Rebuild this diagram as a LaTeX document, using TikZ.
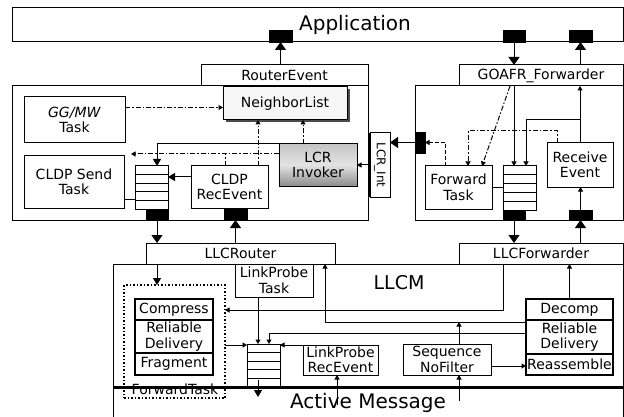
\documentclass[tikz,border=0pt]{standalone}
\usepackage{fontspec}
\setmainfont{DejaVu Sans}
\usetikzlibrary{arrows.meta,calc,shadows}
\begin{document}
\begin{tikzpicture}[x=1pt,y=-1pt,
  box/.style={draw,line width=1pt,fill=white,inner sep=0pt,outer sep=0pt,align=center,font=\fontsize{14}{15.5}\selectfont},
  stk/.style={box,line width=1.5pt},
  pad/.style={fill=black,draw=black,line width=0.5pt,inner sep=0pt,outer sep=0pt},
  conn/.style={line width=1pt},
  big/.style={conn,-{Triangle[width=11pt,length=8pt]}},
  med/.style={conn,-{Triangle[width=8pt,length=7pt]}},
  sml/.style={conn,-{Triangle[width=5pt,length=4.5pt]}},
  dd/.style={conn,dash pattern=on 5pt off 2pt on 1.5pt off 2pt},
  dsh/.style={conn,dash pattern=on 4pt off 2pt},
  sep/.style={line width=2.5pt},
  bigtxt/.style={font=\fontsize{20}{22}\selectfont,inner sep=0pt}]
\useasboundingbox (0,0) rectangle (624,417);

% ---------- top level boxes
\node[box,minimum width=611pt,minimum height=34pt] (app) at (317.5,25) {};
\node[bigtxt] (apptxt) at (355,25) {Application};
\node[box,minimum width=356pt,minimum height=134pt] (leftbox) at (190,153) {};
\node[box,minimum width=208pt,minimum height=134pt] (rightbox) at (519,153) {};
\node[box,minimum width=167pt,minimum height=21pt] (rtev) at (284.5,75.5) {RouterEvent};
\node[box,minimum width=164pt,minimum height=21pt] (goafr) at (541,75.5) {GOAFR\_Forwarder};

\node[pad,minimum width=23pt,minimum height=12pt] (padA1) at (280.5,36) {};
\node[pad,minimum width=22pt,minimum height=12pt] (padA2) at (514,36) {};
\node[pad,minimum width=23pt,minimum height=12pt] (padA3) at (580.5,36) {};

% ---------- router module
\node[box,minimum width=101pt,minimum height=46pt] (gg) at (74.5,120) {\textit{GG/MW}\\Task};
\node[box,fill=gray!7,drop shadow={shadow xshift=2.5pt,shadow yshift=-2.5pt,fill=black!70,opacity=1},minimum width=124pt,minimum height=33pt] (nl) at (285,103.5) {NeighborList};
\node[box,top color=gray!45,bottom color=gray!90,middle color=gray!22,minimum width=78pt,minimum height=42pt] (lcr) at (318,165) {LCR\\Invoker};
\node[box,minimum width=20pt,minimum height=64pt,font=\fontsize{12}{14}\selectfont] (lcrint) at (380,165) {\rotatebox{-90}{LCR\_Int}};
\draw[sep] (lcrint.north west) -- (lcrint.south west);
\node[box,minimum width=100pt,minimum height=52pt] (cldps) at (74,182) {CLDP Send\\Task};
\node[box,minimum width=33pt,minimum height=43pt] (q1) at (151.5,187.5) {};
\node[pad,minimum width=22pt,minimum height=11pt] (padQ1) at (157,214.5) {};
\node[box,minimum width=77pt,minimum height=42pt] (cldpr) at (229.5,187) {CLDP\\RecEvent};
\node[pad,minimum width=23pt,minimum height=11pt] (padR) at (235.5,214.5) {};

% ---------- forwarder module
\node[pad,minimum width=10pt,minimum height=21pt] (padF) at (420,142.5) {};
\node[box,minimum width=67pt,minimum height=43pt] (fwd) at (458.5,187.5) {Forward\\Task};
\node[box,minimum width=33pt,minimum height=44pt] (q2) at (519.5,188) {};
\node[pad,minimum width=22pt,minimum height=10pt] (padQ2) at (514,215) {};
\node[box,minimum width=66pt,minimum height=44pt] (recv) at (580,165) {Receive\\Event};
\node[pad,minimum width=23pt,minimum height=10pt] (padRcv) at (580.5,215) {};

% ---------- LLCM
\coordinate (llcmBL) at (113,418);
\coordinate (llcmTL) at (113,264);
\coordinate (llcmTR) at (623,264);
\coordinate (llcmBR) at (623,418);
\draw[line width=1pt] (llcmBL) -- (llcmTL) -- (llcmTR) -- (llcmBR);
\node[box,minimum width=189pt,minimum height=21pt] (llcr) at (240.5,253.5) {LLCRouter};
\node[box,minimum width=164pt,minimum height=21pt] (llcf) at (541,253.5) {LLCForwarder};
\node[font=\fontsize{19}{21}\selectfont,inner sep=0pt] (llcmtxt) at (399,283) {LLCM};
\node[box,minimum width=78pt,minimum height=33pt] (lpt) at (274,280.5) {LinkProbe\\Task};

\node[draw,line width=1.5pt,dash pattern=on 1.5pt off 2pt,inner sep=0pt,outer sep=0pt,minimum width=101pt,minimum height=113pt] (ftdot) at (174.5,341.5) {};
\node[stk,minimum width=78pt,minimum height=21pt] (comp) at (174,309.5) {Compress};
\node[stk,minimum width=78pt,minimum height=33pt] (rel) at (174,336.5) {Reliable\\Delivery};
\node[stk,minimum width=78pt,minimum height=22pt] (frag) at (174,364) {Fragment};
\draw[sep] (comp.south west) -- (comp.south east);
\draw[sep] (rel.south west) -- (rel.south east);
\node[font=\fontsize{14}{15.5}\selectfont,inner sep=0pt] (fttxt) at (175,389) {ForwardTask};

\node[box,minimum width=33pt,minimum height=43pt] (q3) at (263.5,365.5) {};
\node[box,minimum width=75pt,minimum height=30pt] (lpr) at (340.5,360) {LinkProbe\\RecEvent};
\node[box,minimum width=88pt,minimum height=31pt] (seq) at (447,359.5) {Sequence\\NoFilter};
\node[stk,minimum width=87pt,minimum height=21pt] (dec) at (569.5,309.5) {Decomp};
\node[stk,minimum width=87pt,minimum height=34pt] (rel2) at (569.5,337) {Reliable\\Delivery};
\node[stk,minimum width=87pt,minimum height=21pt] (reas) at (569.5,364.5) {Reassemble};
\draw[sep] (dec.south west) -- (dec.south east);
\draw[sep] (rel2.south west) -- (rel2.south east);

% queue rows
\foreach \q in {q1,q2,q3}
  \foreach \i in {1,...,4}
    \draw[line width=1pt] ($(\q.north west)!\i/5!(\q.south west)$) -- ($(\q.north east)!\i/5!(\q.south east)$);

% Active Message
\coordinate (amL) at (113,387);
\coordinate (amR) at (623,387);
\draw[line width=3pt] (amL) -- (amR);
\node[bigtxt] (amtxt) at (368,403) {Active Message};

% ---------- connectors: top
\draw[big] (rtev.north -| padA1) -- (padA1.south);
\draw[big] (padA2.south) -- (padA2.south |- goafr.north);
\draw[big] (goafr.north -| padA3) -- (padA3.south);

% ---------- connectors: router module
\coordinate (nlin) at ([yshift=-4pt]nl.west);
\draw[dd,-{Triangle[width=5pt,length=4.5pt]}] (gg.east |- nlin) -- (nlin);
\coordinate (c5) at ([xshift=-27pt]nl.south);
\draw[dd,-{Triangle[width=5pt,length=4.5pt]}] (c5 |- cldpr.north) -- (c5);
\coordinate (c6) at ([xshift=18pt]nl.south);
\draw[dd,-{Triangle[width=5pt,length=4.5pt]}] (c6 |- lcr.north) -- (c6);
\draw[med] (lcr.north west) -| (q1.north -| padQ1);
\coordinate (c8) at ([yshift=11pt]lcr.west);
\coordinate (c8e) at ([xshift=7pt]cldps.north east);
\draw[dd,-{Triangle[width=5pt,length=4.5pt]}] (c8) -- (c8 -| c8e);
\coordinate (c8b) at ([xshift=-4.5pt]cldpr.north);
\draw[dd] (c8b) -- (c8b |- c8);
\coordinate (c9) at ([yshift=10pt]cldpr.west);
\draw[med] (c9) -- (c9 -| q1.east);
\coordinate (c10) at ([yshift=-17pt]cldps.east);
\draw[conn] (c10) -- (c10 -| q1.west);
\draw[big] (padQ1.south) -- (padQ1.south |- llcr.north);
\draw[big] (llcr.north -| padR) -- (padR.south);
\draw[big] (padF.west) -- (padF.west -| lcrint.east);
\draw[sml] (lcrint.west |- lcr.east) -- (lcr.east);

% ---------- connectors: forwarder module
\draw[dsh,-{Triangle[width=5pt,length=4.5pt]}] ([xshift=-13.5pt]fwd.north) |- (padF.east);
\draw[sml] (goafr.south -| padQ2) -- (q2.north -| padQ2);
\draw[sml] (recv.north) -- (recv.north |- goafr.south);
\coordinate (rb) at (580,120);
\draw[sml] (rb) -| ([xshift=6.5pt]q2.north);
\draw[dd,-{Triangle[width=5pt,length=4.5pt]}] ([xshift=-31pt]goafr.south) -- ([xshift=23.5pt]fwd.north);
\coordinate (ddr) at (557,131);
\draw[dd,-{Triangle[width=5pt,length=4.5pt]}] ([xshift=-23pt]recv.north) -- (ddr) -| ([xshift=9.5pt]fwd.north);
\draw[conn] (fwd.east) -- (fwd.east -| q2.west);
\draw[big] (padQ2.south) -- (padQ2.south |- llcf.north);
\draw[big] (llcf.north -| padRcv) -- (padRcv.south);
\draw[sml] (padRcv.north) -- (padRcv.north |- recv.south);

% ---------- connectors: LLCM
\draw[med] (llcr.south -| padQ1) -- (ftdot.north -| padQ1);
\draw[sml] ([xshift=-16pt]lpt.south) -- ([xshift=-5.5pt]q3.north);
\draw[sml] ([xshift=44pt]llcf.south west) |- ([yshift=31.5pt]ftdot.east);
\draw[sml] ([yshift=-2pt]rel2.north west) -| ([xshift=84.5pt]llcr.south);
\coordinate (join) at (459,322);
\draw[sml] (seq.north -| join) -- (join);
\draw[sml] ([yshift=4pt]rel2.west) -| ([xshift=5.5pt]q3.north);
\coordinate (c30) at ([yshift=-3.5pt]ftdot.east);
\draw[sml] (c30) -- (c30 -| q3.west);
\draw[sml] (lpr.north west) -- (lpr.north west -| q3.east);
\coordinate (amq) at (258,397);
\draw[med] ([xshift=-5.5pt,yshift=7pt]q3.south) -- (amq);
\coordinate (amlpr) at (337,405);
\draw[sml] (amlpr) -- (amlpr |- lpr.south);
\coordinate (amseq) at (459,401);
\draw[sml] (amseq) -- (amseq |- seq.south);
\coordinate (c35) at ([yshift=-6.5pt]seq.east);
\draw[sml] (c35) -- (c35 -| reas.west);
\draw[sml] (dec.north) -- (dec.north |- llcf.south);
\end{tikzpicture}
\end{document}
